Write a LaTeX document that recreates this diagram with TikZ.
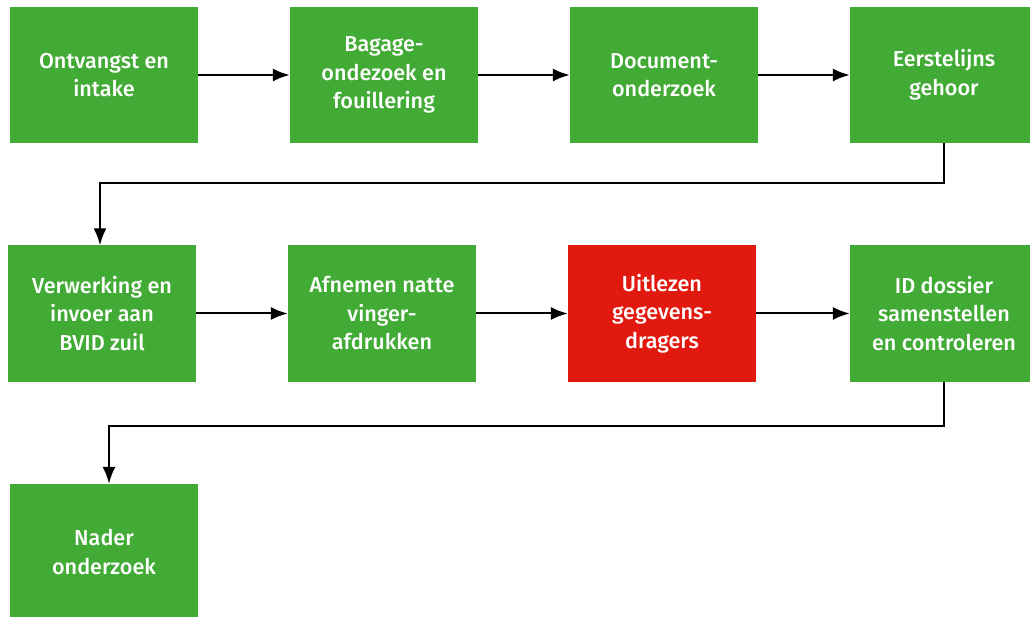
\documentclass[tikz,border=0pt]{standalone}
\usepackage{fontspec}
\setmainfont{Fira Sans}[UprightFont={* Medium}]
\usetikzlibrary{arrows.meta,positioning}
\definecolor{stapgroen}{HTML}{42AB35}
\definecolor{staprood}{HTML}{E2190F}

\begin{document}
\begin{tikzpicture}[x=1pt,y=1pt,node distance=280pt,on grid,
    stap/.style={rectangle,fill=stapgroen,text=white,minimum width=188pt,minimum height=136pt,
      inner sep=0pt,align=center,font=\fontsize{21.6}{28.5}\selectfont},
    alarm/.style={stap,fill=staprood},
    pijl/.style={-{Latex[length=17pt,width=13pt]},line width=2pt}]
   \useasboundingbox (0,0) rectangle (1030,-617);
   % eerste rij
   \node [stap] (ontvangst) at (104,-75) {Ontvangst en\\intake};
   \node [stap] (bagage) [right= of ontvangst] {Bagage-\\ondezoek en\\fouillering};
   \node [stap] (document) [right= of bagage] {Document-\\onderzoek};
   \node [stap] (gehoor) [right= of document] {Eerstelijns\\gehoor};
   % tweede rij
   \node [stap] (bvid) at (102,-313.5) {Verwerking en\\invoer aan\\BVID zuil};
   \node [stap] (vinger) [right= of bvid] {Afnemen natte\\vinger-\\afdrukken};
   \node [alarm] (uitlezen) [right= of vinger] {Uitlezen\\gegevens-\\dragers};
   \node [stap] (dossier) at (944,-313.5) {ID dossier\\samenstellen\\en controleren};
   % derde rij
   \node [stap] (nader) at (104,-552) {Nader\\onderzoek};
   \path[pijl]
    (ontvangst) edge (bagage)
    (bagage) edge (document)
    (document) edge (gehoor)
    (bvid) edge (vinger)
    (vinger) edge (uitlezen)
    (uitlezen) edge (dossier);
   \draw[pijl] (gehoor.south) -- ++(0,-40) -| ([xshift=-2pt]bvid.north);
   \draw[pijl] (dossier.south) -- ++(0,-44) -| ([xshift=5pt]nader.north);
\end{tikzpicture}
\end{document}
